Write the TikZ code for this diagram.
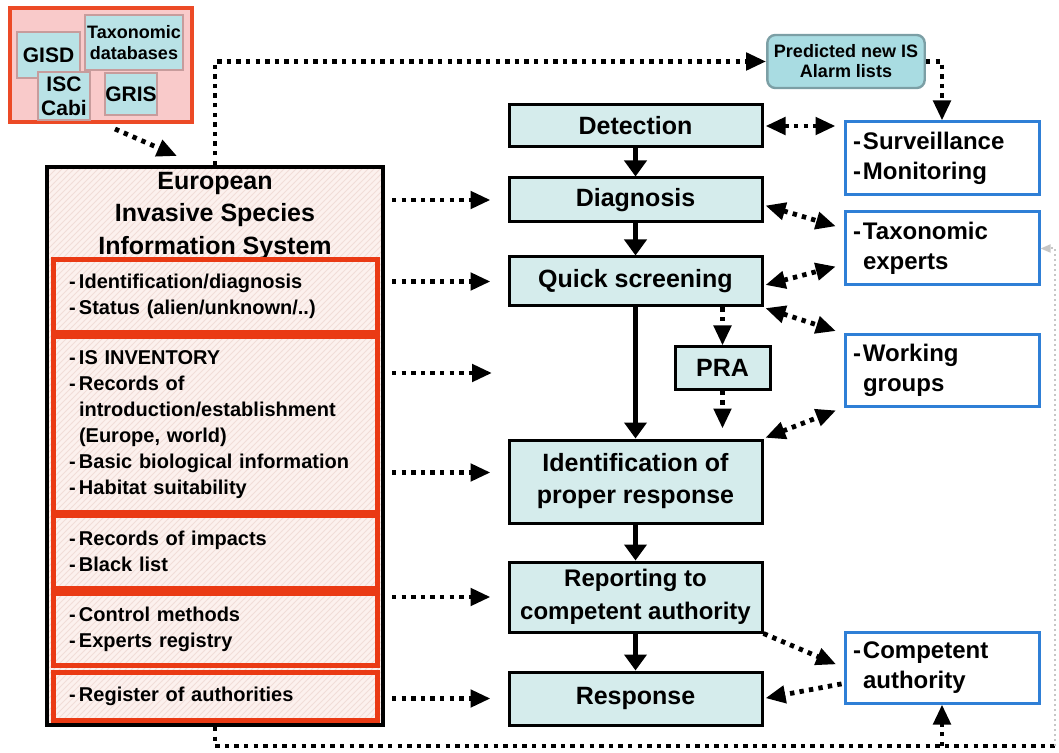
\documentclass[tikz,border=0pt]{standalone}
\usepackage{fontspec}
\setmainfont{Liberation Sans}
\usetikzlibrary{arrows.meta,patterns}

\definecolor{flowfill}{HTML}{D5ECEC}
\definecolor{predfill}{HTML}{A9DCE2}
\definecolor{predline}{HTML}{7C9FA5}
\definecolor{srcfill}{HTML}{F9CACA}
\definecolor{srcline}{HTML}{EC4A26}
\definecolor{dbfill}{HTML}{B9E2E6}
\definecolor{dbline}{HTML}{C79C9C}
\definecolor{eisfill}{HTML}{FCF1EE}
\definecolor{eishatch}{HTML}{F1DDD8}
\definecolor{redline}{HTML}{EA3A14}
\definecolor{blueline}{HTML}{2F7FD6}

\newcommand{\li}{\makebox[5pt][l]{-}}
\newcommand{\ind}{\hspace*{5pt}}

\begin{document}
\begin{tikzpicture}[x=0.5pt,y=-0.5pt]
        % Define styles for shapes
        \tikzstyle{flowbox} = [draw, line width=1.5pt, fill=flowfill, minimum width=126.5pt, inner sep=1pt, align=center, font=\fontsize{12.5}{16}\selectfont\bfseries]
        \tikzstyle{eisbox} = [draw, line width=2pt, preaction={fill=eisfill}, pattern=north east lines, pattern color=eishatch, minimum width=168pt, minimum height=279pt]
        \tikzstyle{redbox} = [draw=redline, line width=2.5pt, preaction={fill=eisfill}, pattern=north east lines, pattern color=eishatch, minimum width=162pt, inner xsep=8pt, text width=146pt, align=left, font=\fontsize{10}{13}\selectfont\bfseries]
        \tikzstyle{bluebox} = [draw=blueline, line width=1.5pt, fill=white, minimum width=97pt, inner xsep=4pt, text width=89pt, align=left, font=\fontsize{12}{15}\selectfont\bfseries]
        \tikzstyle{dbbox} = [draw=dbline, line width=0.8pt, fill=dbfill, inner sep=0pt, align=center, font=\fontsize{10.5}{12}\selectfont\bfseries]
        \tikzstyle{dotline} = [line width=2.4pt, dash pattern=on 2.2pt off 2.6pt]
        \tikzstyle{dotarrow} = [dotline, -{Triangle[length=10pt,width=8.5pt]}]
        \tikzstyle{dotboth} = [dotline, {Triangle[length=10pt,width=8.5pt]}-{Triangle[length=10pt,width=8.5pt]}, shorten <=1pt, shorten >=4pt]
        \tikzstyle{leftarrow} = [dotarrow, shorten <=3.5pt, shorten >=8.5pt]
        \tikzstyle{flowarrow} = [line width=2.2pt, -{Triangle[length=8pt,width=11pt]}]

        \useasboundingbox (0,0) rectangle (1059,753);

        % Sources
        \node[draw=srcline, line width=2pt, fill=srcfill, minimum width=91pt, minimum height=57pt] (src) at (101,65) {};
        \node[dbbox, minimum width=31.5pt, minimum height=23pt] (gisd) at (48.5,55) {GISD};
        \node[dbbox, minimum width=49pt, minimum height=27.5pt, font=\fontsize{9}{10.5}\selectfont\bfseries] (taxdb) at (134,42.5) {Taxonomic\\databases};
        \node[dbbox, minimum width=26pt, minimum height=24pt] (isc) at (64,96) {ISC\\Cabi};
        \node[dbbox, minimum width=26pt, minimum height=21pt] (gris) at (131,94) {GRIS};

        % Information system
        \node[eisbox] (eisis) at (215,446) {};
        \node[align=center, font=\fontsize{12.5}{16.25}\selectfont\bfseries] (eistitle) at (215,215.5) {European\\Invasive Species\\Information System};
        \node[redbox, minimum height=36.5pt] (r1) at (215,296.5) {\li Identification/diagnosis\\ \li Status (alien/unknown/..)};
        \node[redbox, minimum height=87.5pt] (r2) at (215,424.5) {\li IS INVENTORY\\ \li Records of\\ \ind introduction/establishment\\ \ind (Europe, world)\\ \li Basic biological information\\ \li Habitat suitability};
        \node[redbox, minimum height=36.5pt] (r3) at (215,551.5) {\li Records of impacts\\ \li Black list};
        \node[redbox, minimum height=36pt] (r4) at (215,629) {\li Control methods\\ \li Experts registry};
        \node[redbox, minimum height=24pt] (r5) at (215,696) {\li Register of authorities};

        % Flow
        \node[flowbox, minimum height=21pt] (detection) at (635.5,126) {Detection};
        \node[flowbox, minimum height=22pt] (diagnosis) at (635.5,200) {Diagnosis};
        \node[flowbox, minimum height=24.5pt] (screening) at (635.5,281.5) {Quick screening};
        \node[flowbox, minimum width=47.5pt, minimum height=21pt] (pra) at (722.5,368) {PRA};
        \node[flowbox, minimum height=41.5pt] (identification) at (635.5,481.5) {Identification of\\proper response};
        \node[flowbox, minimum height=35pt, font=\fontsize{12}{16.5}\selectfont\bfseries] (reporting) at (635.5,597) {Reporting to\\competent authority};
        \node[flowbox, minimum height=26.5pt] (response) at (635.5,698.5) {Response};

        % Partners
        \node[draw=predline, line width=1.2pt, fill=predfill, rounded corners=4pt, minimum width=76pt, minimum height=26.5pt, align=center, font=\fontsize{9}{10}\selectfont\bfseries] (pred) at (846,61.5) {Predicted new IS\\Alarm lists};
        \node[bluebox, minimum height=36.5pt] (surv) at (942,158.5) {\li Surveillance\\ \li Monitoring};
        \node[bluebox, minimum height=36.5pt] (taxexp) at (942,248.5) {\li Taxonomic\\ \ind experts};
        \node[bluebox, minimum height=35.5pt] (working) at (942,370.5) {\li Working\\ \ind groups};
        \node[bluebox, minimum height=35.5pt] (authority) at (942,667.5) {\li Competent\\ \ind authority};

        \coordinate (flowgap) at (509,373);
        \coordinate (identin) at ([yshift=4.5pt]identification.west);
        \coordinate (busR) at (1055,746);

        % Main flow
        \draw[flowarrow] (detection) -- (diagnosis);
        \draw[flowarrow] (diagnosis) -- (screening);
        \draw[flowarrow] (screening) -- (identification);
        \draw[flowarrow] (identification) -- (reporting);
        \draw[flowarrow] (reporting) -- (response);
        \draw[dotarrow] (screening.south -| pra.north) -- (pra.north);
        \draw[dotarrow, shorten >=5pt] (pra.south) -- (pra.south |- identification.north);

        % Information system to flow
        \draw[leftarrow] (eisis.east |- diagnosis.west) -- (diagnosis.west);
        \draw[leftarrow] (eisis.east |- screening.west) -- (screening.west);
        \draw[leftarrow] (eisis.east |- flowgap) -- (flowgap);
        \draw[leftarrow] (eisis.east |- identin) -- (identin);
        \draw[leftarrow] (eisis.east |- reporting.west) -- (reporting.west);
        \draw[leftarrow] (eisis.east |- response.west) -- (response.west);

        % Sources and alarm lists
        \draw[dotarrow] ([xshift=7pt,yshift=-2.5pt]src.south) -- ([xshift=-19pt,yshift=4.5pt]eisis.north);
        \draw[dotarrow] (eisis.north) |- (pred.west);
        \draw[dotarrow] (pred.east) -| (surv.north);
        \draw[dotline] (eisis.south) |- (busR);
        \draw[dotarrow] (authority.south |- busR) -- (authority.south);
        \draw[gray!45, line width=1pt, dash pattern=on 1pt off 1.5pt, -{Triangle[length=5pt,width=4pt]}] (busR) |- (taxexp.east);

        % Partners to flow
        \draw[dotboth] (detection.east) -- (detection.east -| surv.west);
        \draw[dotboth] ([yshift=-2.5pt]diagnosis.east) -- ([yshift=10pt]taxexp.west);
        \draw[dotboth] ([yshift=-2pt]screening.east) -- ([yshift=-8pt]taxexp.west);
        \draw[dotboth] (screening.south east) -- (working.north west);
        \draw[dotboth] (identification.north east) -- (working.south west);
        \draw[dotarrow, shorten >=4pt] (reporting.south east) -- (authority.west);
        \draw[dotarrow, shorten <=1pt, shorten >=1pt] ([yshift=-8pt]authority.west) -- (response.east);
    \end{tikzpicture}
\end{document}
